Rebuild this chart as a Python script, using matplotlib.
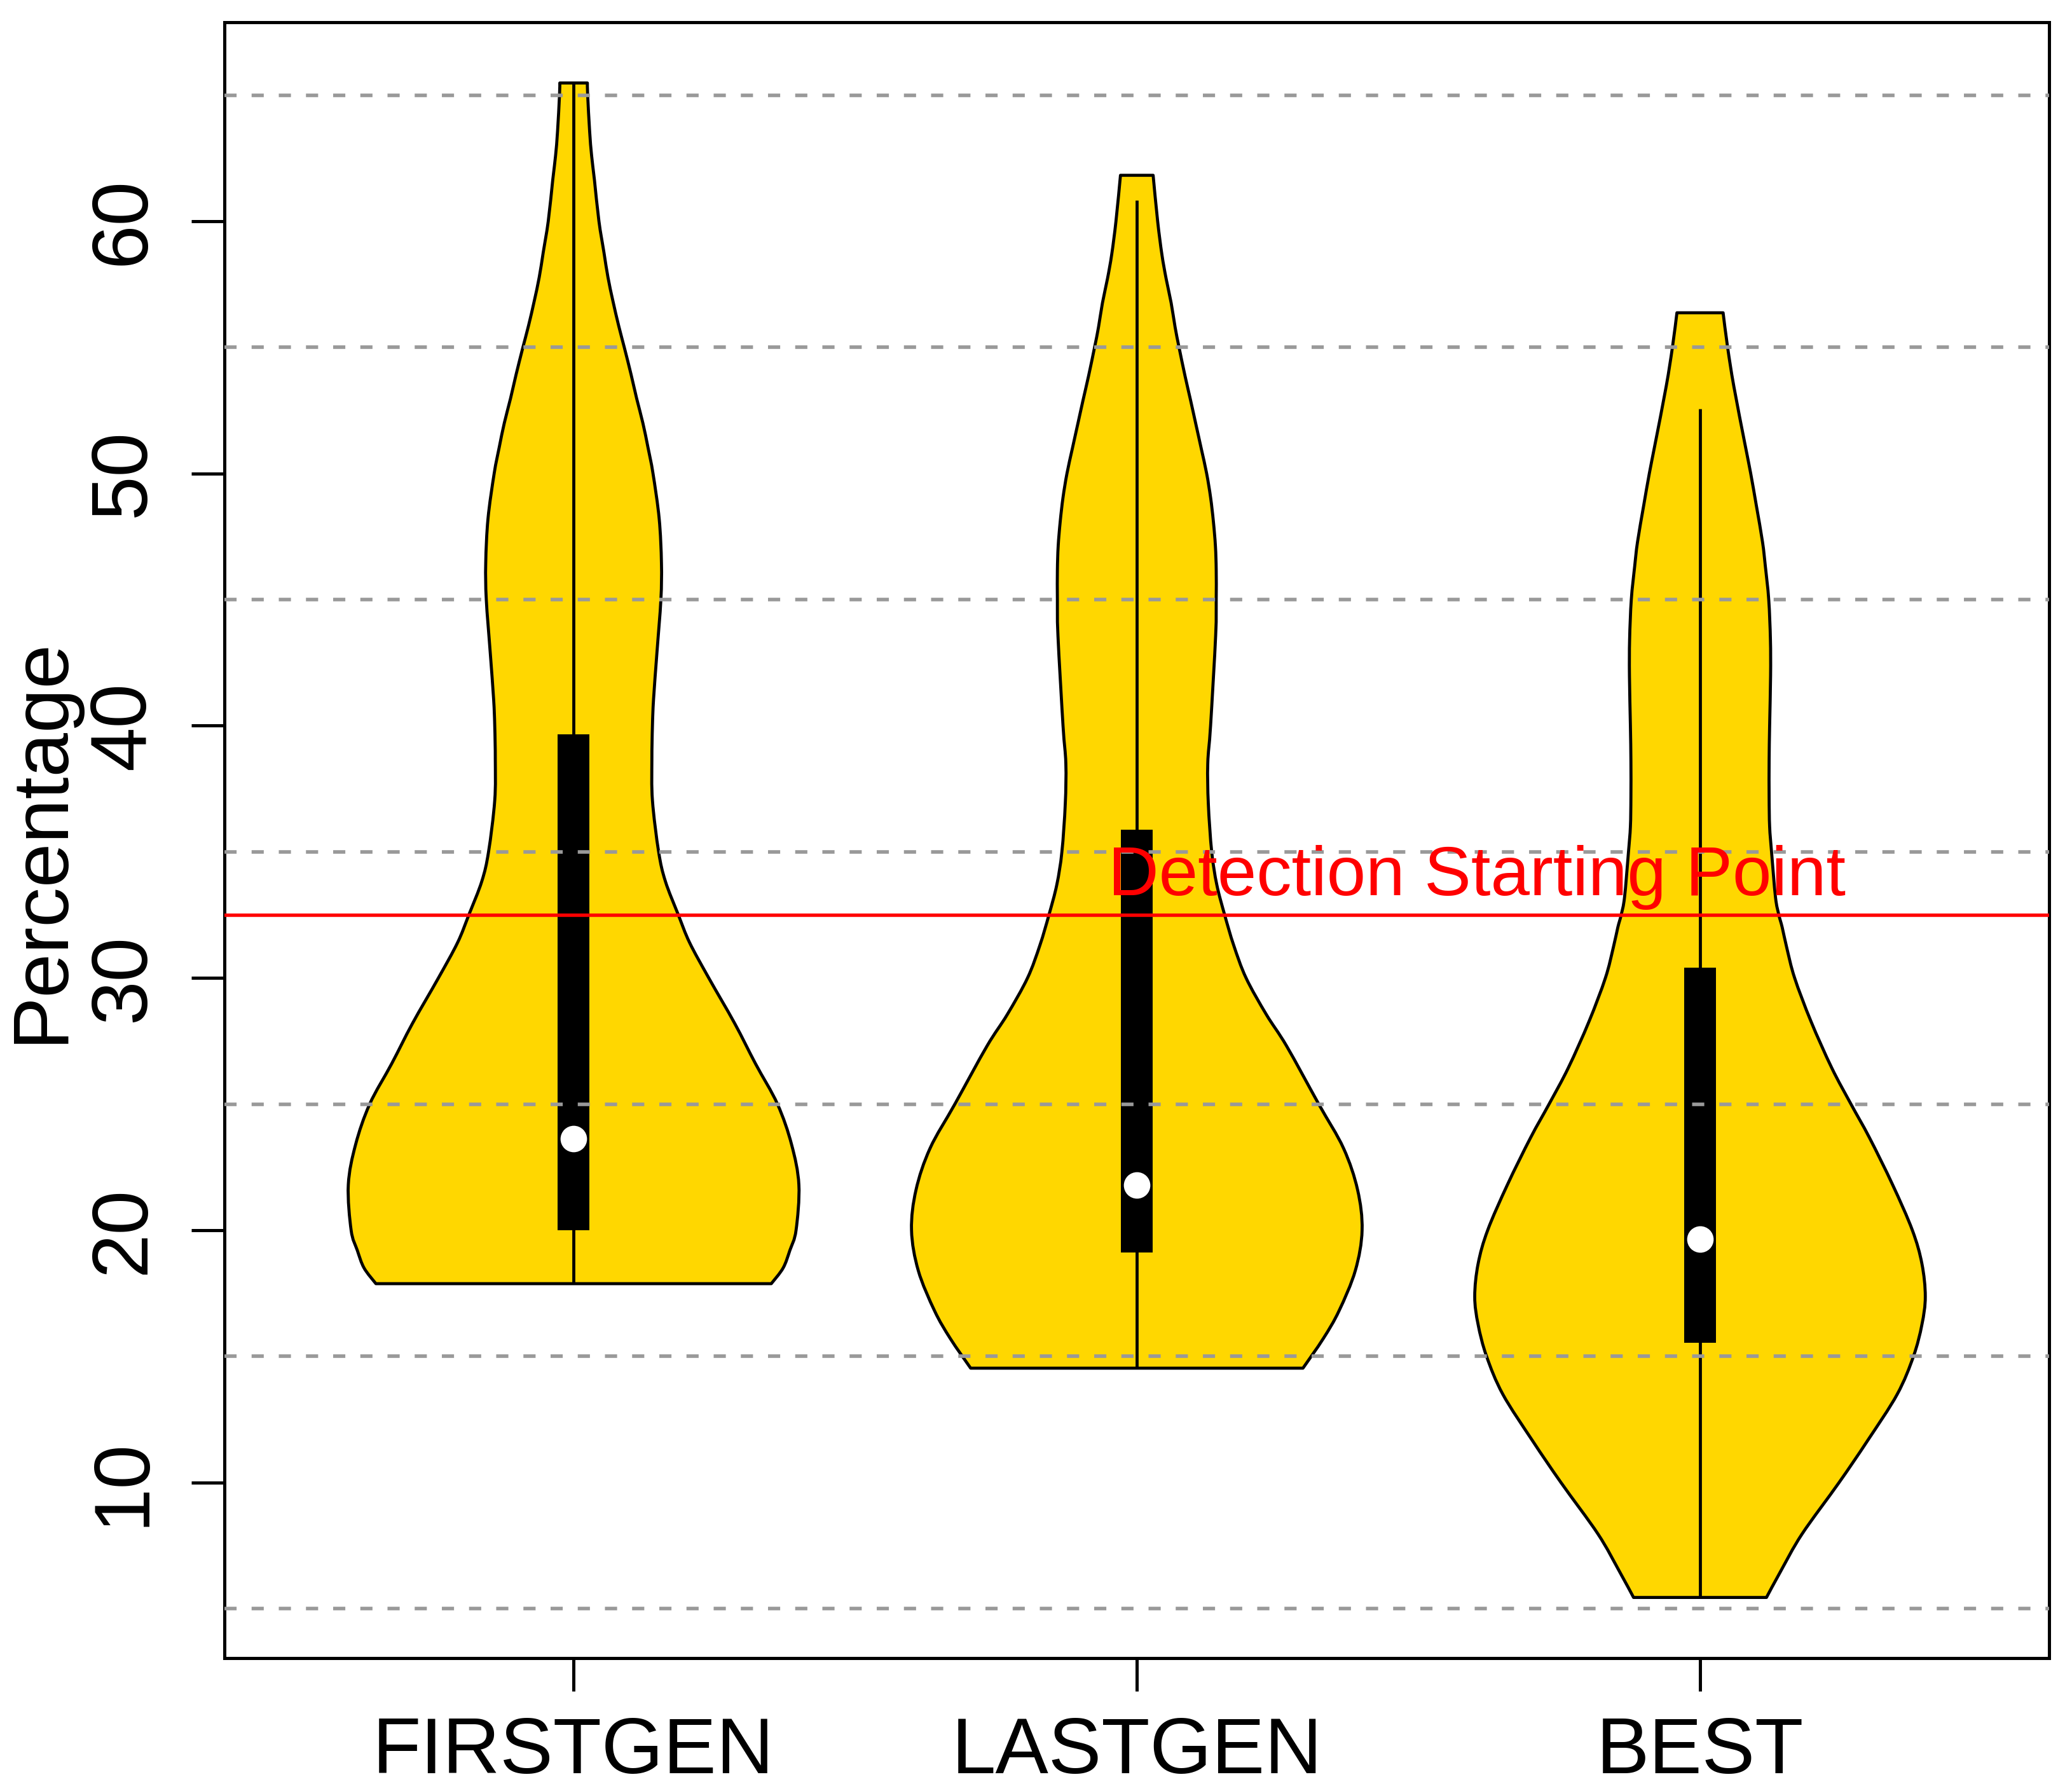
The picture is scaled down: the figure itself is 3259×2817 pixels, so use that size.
import numpy as np
import matplotlib
matplotlib.use('Agg')
import matplotlib.pyplot as plt
from matplotlib.path import Path
from matplotlib.patches import PathPatch
from matplotlib.ticker import MultipleLocator

plt.rcParams['font.family'] = ['Liberation Sans', 'DejaVu Sans']

# groups shown on the x axis
groups = ['FIRSTGEN', 'LASTGEN', 'BEST']

# violin outlines: level (percentage) and half width
firstgen_y = [17.88, 18.5, 19.2, 20.0, 21.8, 23.4, 25.0, 26.6, 28.2, 30.0, 31.4, 32.5, 33.83,
              35.0, 37.04, 38.65, 40.0, 41.06, 42.9, 45.0, 46.45, 48.2, 50.0, 51.04, 52.0,
              52.97, 53.93, 55.0, 55.86, 56.82, 57.78, 58.75, 60.0, 61.64, 62.6, 63.56,
              65.0, 65.48]
firstgen_hw = [0.351, 0.372, 0.384, 0.395, 0.400, 0.387, 0.362, 0.323, 0.286, 0.240, 0.206, 0.186,
               0.163, 0.151, 0.140, 0.139, 0.140, 0.142, 0.148, 0.155, 0.156, 0.152, 0.141,
               0.132, 0.123, 0.112, 0.102, 0.090, 0.080, 0.070, 0.061, 0.054, 0.045, 0.037,
               0.032, 0.0285, 0.025, 0.0245]

lastgen_y = [14.53, 15.7, 16.8, 18.4, 20.0, 21.6, 23.25, 25.0, 27.3, 28.55, 30.0, 31.3,
             32.5, 33.7, 35.0, 36.9, 38.5, 40.0, 43.57, 45.0, 46.16, 47.12, 48.09, 49.05,
             50.0, 50.98, 51.94, 52.9, 53.87, 55.0, 55.8, 56.76, 57.73, 58.69, 60.0, 61.82]
lastgen_hw = [0.295, 0.331, 0.359, 0.388, 0.400, 0.392, 0.367, 0.323, 0.266, 0.230, 0.194, 0.172,
              0.156, 0.142, 0.133, 0.127, 0.126, 0.131, 0.140, 0.141, 0.141, 0.1396, 0.136, 0.131,
              0.124, 0.1145, 0.105, 0.0955, 0.0856, 0.075, 0.068, 0.061, 0.052, 0.0445, 0.037,
              0.029]

best_y = [5.44, 6.47, 7.95, 10.0, 11.64, 13.49, 15.0, 16.26, 17.37, 18.67, 20.0, 21.8,
          23.66, 25.0, 26.43, 28.28, 30.0, 31.2, 32.0, 32.5, 33.2, 35.0, 36.0, 37.16, 38.6,
          40.0, 41.98, 43.42, 45.0, 46.32, 47.28, 48.73, 50.0, 51.14, 53.46, 55.0, 56.37]
best_hw = [0.118, 0.143, 0.181, 0.247, 0.297, 0.350, 0.379, 0.394, 0.400, 0.394, 0.377, 0.342,
           0.301, 0.268, 0.234, 0.197, 0.168, 0.154, 0.146, 0.140, 0.134, 0.127, 0.1236, 0.1227,
           0.1227, 0.1236, 0.1253, 0.125, 0.122, 0.116, 0.111, 0.100, 0.090, 0.080, 0.060,
           0.049, 0.041]

# box plot stats per group
q1 = [20.0, 19.12, 15.54]
q3 = [39.66, 35.87, 30.41]
medians = [23.63, 21.8, 19.64]
whisk_lo = [17.88, 14.53, 5.44]
whisk_hi = [65.48, 60.82, 52.57]

threshold = 32.5
threshold_label = 'Detection Starting Point'

profiles = [(firstgen_y, firstgen_hw), (lastgen_y, lastgen_hw), (best_y, best_hw)]
pos = np.arange(1, len(groups) + 1)


def smooth_side(pts):
    # bezier pieces through the read points (catmull-rom style tangents)
    verts = [pts[0]]
    codes = []
    n = len(pts)
    for i in range(n - 1):
        p0 = pts[max(i - 1, 0)]
        p1 = pts[i]
        p2 = pts[i + 1]
        p3 = pts[min(i + 2, n - 1)]
        c1 = p1 + (p2 - p0) / 6.0
        c2 = p2 - (p3 - p1) / 6.0
        verts += [c1, c2, p2]
        codes += [Path.CURVE4] * 3
    return verts, codes


def violin_path(p, yy, hw):
    yy = np.array(yy)
    hw = np.array(hw)
    right = np.column_stack([p + hw, yy])
    left = np.column_stack([p - hw, yy])[::-1]
    rv, rc = smooth_side(right)
    lv, lc = smooth_side(left)
    verts = rv + lv + [rv[0]]
    codes = [Path.MOVETO] + rc + [Path.LINETO] + lc + [Path.CLOSEPOLY]
    return Path(np.array(verts), codes)


fig = plt.figure(figsize=(3259 / 300, 2817 / 300), dpi=300)
ax = fig.add_axes([0.1083, 0.07426, 0.8807, 0.91321])

for p, (yy, hw) in zip(pos, profiles):
    ax.add_patch(PathPatch(violin_path(p, yy, hw), facecolor='#FFD700', edgecolor='black',
                           linewidth=1.15, joinstyle='round', zorder=1))

ax.vlines(pos, whisk_lo, whisk_hi, colors='black', linewidth=1.15, zorder=1.5)
ax.bar(pos, np.array(q3) - np.array(q1), bottom=q1, width=0.056, color='black', zorder=1.6)

ax.axhline(threshold, color='red', linewidth=1.3, zorder=3)
ax.text(2.604, threshold + 0.79, threshold_label, color='red', fontsize=26.5,
        ha='center', va='baseline', zorder=5)

ax.plot(pos, medians, 'o', color='white', markersize=10, markeredgewidth=0, zorder=4)

ax.set_xlim(0.38, 3.62)
ax.set_ylim(3.04, 67.88)

ax.set_xticks(pos)
ax.set_xticklabels(groups, fontsize=30)
ax.set_yticks([10, 20, 30, 40, 50, 60])
ax.set_yticklabels(['10', '20', '30', '40', '50', '60'], fontsize=30, rotation=90, va='center')
ax.yaxis.set_minor_locator(MultipleLocator(5))
ax.tick_params(which='major', direction='out', length=12.5, width=1.2, pad=9.5)
ax.tick_params(axis='y', which='major', pad=11.5)
ax.tick_params(which='minor', length=0)
ax.grid(True, axis='y', which='minor', color='#999999', linewidth=1.35,
        linestyle=(0, (3.4, 4.2)))
ax.set_axisbelow(False)

for s in ax.spines.values():
    s.set_linewidth(1.2)

ax.set_ylabel('Percentage', fontsize=30)
ax.yaxis.set_label_coords(-0.0800, 0.5)

fig.savefig('out.png', dpi=300)
